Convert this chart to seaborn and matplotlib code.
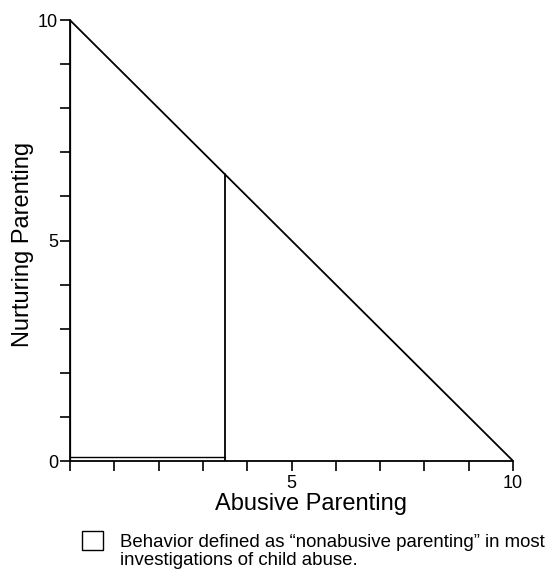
import numpy as np
import pandas as pd
import matplotlib
matplotlib.use('Agg')
import matplotlib.pyplot as plt
import seaborn as sns
from matplotlib.patches import Rectangle

sns.set_theme(style='ticks')
plt.rcParams['font.family'] = ['Liberation Sans', 'DejaVu Sans']
for k in ['text.color', 'axes.labelcolor', 'xtick.color', 'ytick.color']:
    plt.rcParams[k] = 'black'

# diagonal trade-off line
abusive = [0, 10]
nurturing = [10, 0]

# "nonabusive" region as defined in most studies
cut_abusive = 3.5
cut_nurturing = 6.5
region_floor = 0.1

x_ticks = list(range(0, 11))
y_ticks = list(range(0, 11))
labelled = [0, 5, 10]

legend_text = ('Behavior defined as \u201cnonabusive parenting\u201d in most\n'
               'investigations of child abuse.')

fig = plt.figure(figsize=(5.5, 5.72), dpi=100)
ax = fig.add_axes([0.127, 0.194, 0.806, 0.771])

df = pd.DataFrame({'abusive': abusive, 'nurturing': nurturing})
sns.lineplot(data=df, x='abusive', y='nurturing', color='black', lw=1.3, ax=ax)

# region outline: right edge and bottom edge (left edge is the axis)
ax.plot([cut_abusive, cut_abusive], [0, cut_nurturing], color='black', lw=1.3)
ax.plot([0, cut_abusive], [region_floor, region_floor], color='black', lw=1.0)
ax.plot([0, 0], [0, 10], color='black', lw=1.6)

ax.set_xlim(0, 10)
ax.set_ylim(0, 10)
ax.set_xticks(x_ticks)
ax.set_yticks(y_ticks)
ax.set_xticklabels([str(t) if t in labelled and t != 0 else '' for t in x_ticks], fontsize=13)
ax.set_yticklabels([str(t) if t in labelled else '' for t in y_ticks], fontsize=13)
ax.tick_params(direction='out', length=7, width=1.2, color='black')
ax.tick_params(axis='x', pad=3)
ax.tick_params(axis='y', pad=1.5)
sns.despine(ax=ax)
for s in ['left', 'bottom']:
    ax.spines[s].set_color('black')
    ax.spines[s].set_linewidth(1.3)
ax.set_xlabel('Abusive Parenting', fontsize=17)
ax.set_ylabel('Nurturing Parenting', fontsize=17)
ax.xaxis.set_label_coords(0.544, -0.072)
ax.yaxis.set_label_coords(-0.081, 0.492)
ax.margins(0)

# legend key and caption below the plot
fig.patches.append(Rectangle((0.149, 0.0385), 0.038, 0.033, transform=fig.transFigure,
                             facecolor='white', edgecolor='black', lw=1.0))
fig.text(0.218, 1 - 565 / 572, legend_text, fontsize=13.4, va='baseline', ha='left',
         linespacing=1.07)

fig.savefig('out.png', dpi=100)
